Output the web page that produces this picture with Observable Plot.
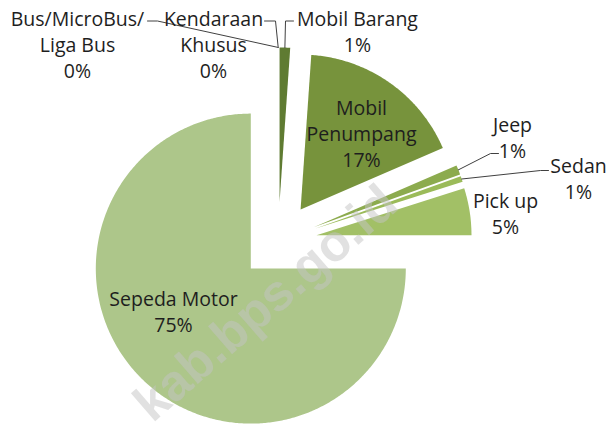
<!DOCTYPE html>
<html><head><meta charset="utf-8">
<script src="https://cdn.jsdelivr.net/npm/d3@7"></script>
<script src="https://cdn.jsdelivr.net/npm/@observablehq/plot@0.6"></script>
<style>body{margin:0;background:#fff}</style>
</head><body><div id="chart"></div>
<script>
// ---- data ----
const categories = ["Bus/MicroBus/Liga Bus","Kendaraan Khusus","Mobil Barang","Mobil Penumpang","Jeep","Sedan","Pick up","Sepeda Motor"];
const shares = [0, 0, 1.1, 17.4, 1.0, 0.6, 4.9, 75.0];
const labelLines = [["Bus/MicroBus/","Liga Bus"],["Kendaraan","Khusus"],["Mobil Barang"],["Mobil","Penumpang"],["Jeep"],["Sedan"],["Pick up"],["Sepeda Motor"]];
const watermark = "kab.bps.go.id";

// ---- styles / layout ----
const colors = ["#4f6228","#566d2c","#5f7b32","#77933c","#8cab4e","#9bbb59","#a2c066","#adc68a"];
const W = 606, H = 425;
const center = [277.7, 240.7], R = 155, explode = 0.25;
const labelPos = [[77,43],[213,43],[357,30],[361,132],[512,136.5],[578,177.5],[505,212],[173,310.5]];
const leaderStart = {0:[[147,20.5],[157,20.5]], 1:[[264,20.5],[275,20.5]], 2:[[293,20.5],[285,20.5]], 4:[[498,153],[490,153]], 5:[[548,170],[540,170]]};

const data = categories.map((name,i)=>({name, share: shares[i], i}));
const arcs = d3.pie().sort(null).value(d=>d.share).startAngle(0).endAngle(2*Math.PI)(data);

const polys = [];
const leaders = [];
const labels = [];
arcs.forEach(a=>{
  const mid = (a.startAngle + a.endAngle)/2;
  const cx = center[0] + explode*R*Math.sin(mid), cy = center[1] - explode*R*Math.cos(mid);
  const n = Math.max(2, Math.ceil((a.endAngle - a.startAngle)/0.01));
  polys.push({name:a.data.name, x:cx, y:cy});
  for (let k=0;k<=n;k++){
    const t = a.startAngle + (a.endAngle - a.startAngle)*k/n;
    polys.push({name:a.data.name, x:cx + R*Math.sin(t), y:cy - R*Math.cos(t)});
  }
  const i = a.data.i;
  if (leaderStart[i]) {
    leaderStart[i].forEach(p=>leaders.push({name:a.data.name, x:p[0], y:p[1]}));
    leaders.push({name:a.data.name, x:cx + R*Math.sin(mid), y:cy - R*Math.cos(mid)});
  }
  labels.push({x:labelPos[i][0], y:labelPos[i][1], text:[...labelLines[i], Math.round(a.data.share)+"%"].join("\n")});
});

const chart = Plot.plot({
  width: W, height: H, margin: 0,
  x: {domain:[0,W], range:[0,W], axis:null},
  y: {domain:[0,H], range:[0,H], axis:null},
  color: {domain: categories, range: colors},
  style: {background:"white"},
  marks: [
    Plot.line(polys, {x:"x", y:"y", z:"name", fill:"name", stroke:"none", curve:"linear"}),
    Plot.text([{x:152, y:423, t:watermark}], {x:"x", y:"y", text:"t", rotate:-41, textAnchor:"start", lineAnchor:"bottom",
      fontSize:51, fontWeight:"bold", fontFamily:"Liberation Sans, Arial, sans-serif", fill:"#c4c4c4", fillOpacity:0.5}),
    Plot.line(leaders, {x:"x", y:"y", z:"name", stroke:"#404040", strokeWidth:1}),
    Plot.text(labels, {x:"x", y:"y", text:"text", fontSize:19.5, lineHeight:1.33, fill:"#1e1e1e",
      fontFamily:"Open Sans, sans-serif"})
  ]
});
document.getElementById("chart").appendChild(chart);
</script>
</body></html>
